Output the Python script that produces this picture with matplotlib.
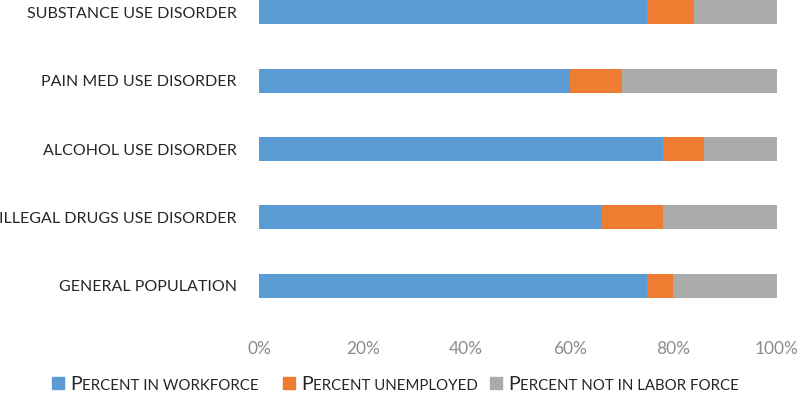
import matplotlib
matplotlib.use('Agg')
import matplotlib.pyplot as plt
import matplotlib.patches as mpatches
import numpy as np

categories = ['GENERAL POPULATION', 'ILLEGAL DRUGS USE DISORDER', 'ALCOHOL USE DISORDER',
              'PAIN MED USE DISORDER', 'SUBSTANCE USE DISORDER']
workforce = [75, 66, 78, 60, 75]
unemployed = [5, 12, 8, 10, 9]
not_in_labor = [20, 22, 14, 30, 16]
series_names = ['Percent in workforce', 'Percent unemployed', 'Percent not in labor force']
colors = ['#5B9BD5', '#ED7D31', '#ABABAB']

plt.rcParams['font.family'] = ['Lato', 'DejaVu Sans']

fig = plt.figure(figsize=(8, 4.05), dpi=100)
ax = fig.add_axes([0.324, 0.21, 0.647, 0.844])

y = np.arange(len(categories))
w = np.array(workforce)
u = np.array(unemployed)
n = np.array(not_in_labor)
h = 0.35
ax.barh(y, w, height=h, color=colors[0])
ax.barh(y, u, left=w, height=h, color=colors[1])
ax.barh(y, n, left=w + u, height=h, color=colors[2])

ax.set_ylim(-0.5, 4.5)
ax.set_xlim(0, 100)
ax.set_yticks(y)
ax.set_yticklabels(categories, fontsize=11.5, color='#262626')
ax.set_xticks(np.arange(0, 101, 20))
ax.set_xticklabels([f'{v}%' for v in range(0, 101, 20)], fontsize=12.5, color='#8C8C8C')
ax.tick_params(axis='both', length=0)
ax.tick_params(axis='y', pad=16)
ax.tick_params(axis='x', pad=15)
for s in ax.spines.values():
    s.set_visible(False)

# legend with small caps drawn by hand
fig.canvas.draw()
r = fig.canvas.get_renderer()
W, H = fig.bbox.width, fig.bbox.height
starts = [52, 283, 490]
ybase = 405 - 390
for x0, name, c in zip(starts, series_names, colors):
    fig.patches.append(mpatches.Rectangle((x0 / W, (ybase + 1) / H), 12 / W, 12 / H,
                                          transform=fig.transFigure, color=c))
    x = x0 + 18
    first = fig.text(x / W, ybase / H, name[0].upper(), fontsize=14, color='#262626', va='baseline')
    x += first.get_window_extent(r).width
    fig.text(x / W, ybase / H, name[1:].upper(), fontsize=10.8, color='#262626', va='baseline')

fig.savefig('out.png', dpi=100)
